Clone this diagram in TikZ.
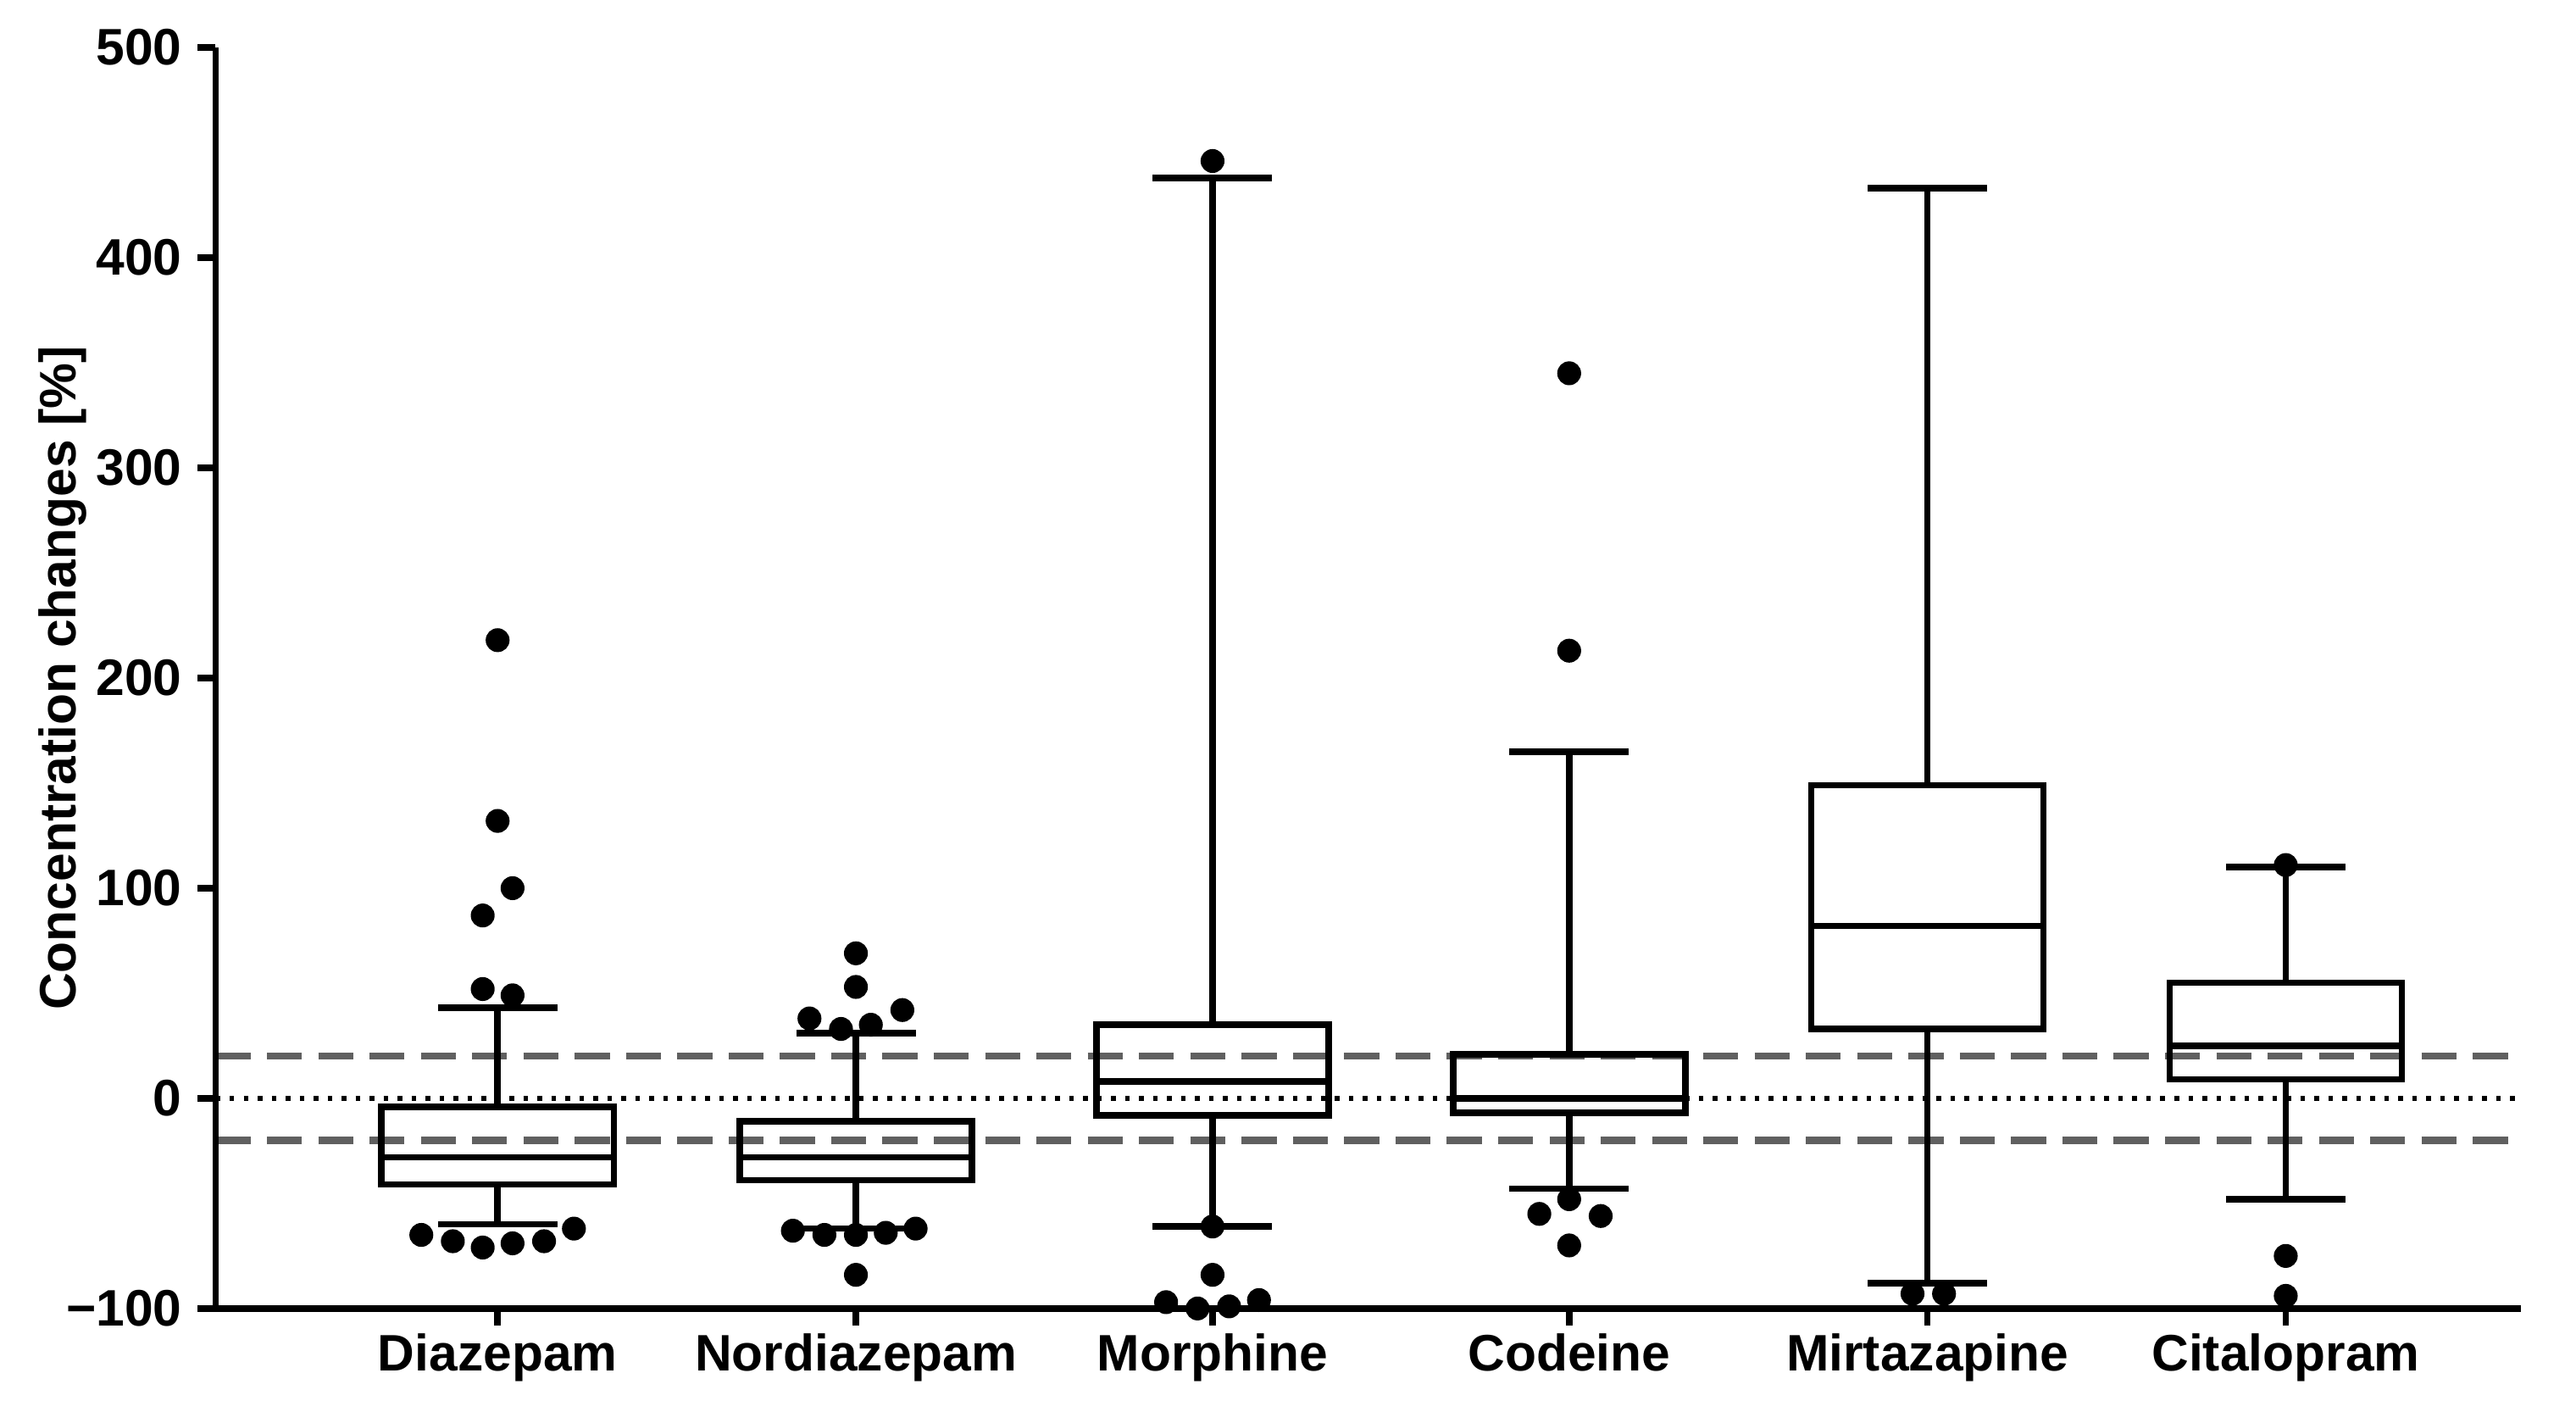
\documentclass[tikz,border=0pt]{standalone}
\usepackage{fontspec}
\setmainfont{Liberation Sans}
\begin{document}
\begin{tikzpicture}[x=0.05cm,y=0.05cm,
  ln/.style={line width=5.5pt},
  refl/.style={line width=6pt,gray!75!black,dash pattern=on 30pt off 14pt},
  dot/.style={fill=black,draw=none},
  lab/.style={font=\fontsize{44}{48}\selectfont\bfseries}]
\useasboundingbox (0,0) rectangle (1553,851);
\begin{scope}[yshift=9.45cm,y=0.063333cm]
% reference lines
\draw[refl] (130,20) coordinate (r1a) -- (1520,20) coordinate (r1b);
\draw[refl] (130,-20) coordinate (r2a) -- (1520,-20) coordinate (r2b);
\draw[line width=4pt,dash pattern=on 4pt off 8pt] (130,0) coordinate (r0a) -- (1520,0) coordinate (r0b);
% axes
\draw[ln] (130,500) coordinate (ytop) -- (130,-100) coordinate (o) -- (1520,-100) coordinate (xend);
\foreach \v/\t in {500/500,400/400,300/300,200/200,100/100,0/0,-100/−100}{
  \draw[ln] (130,\v) -- (119,\v);
  \node[lab,anchor=east] (yt\v) at (112,\v) {\t};
}
\node[lab,rotate=90] (ylab) at (38,200) {Concentration changes [\%]};
% boxes: name/x/q1/med/q3/wlo/whi
\foreach \n/\x/\qa/\m/\qb/\wl/\wh/\lbl in {
  a/300/-41/-28/-4/-60/43/Diazepam,
  b/516/-39/-28/-11/-62/31/Nordiazepam,
  c/731/-8/8/35/-61/438/Morphine,
  d/946/-7/0/21/-43/165/Codeine,
  e/1162/33/82/149/-88/433/Mirtazapine,
  f/1378/9/25/55/-48/110/Citalopram}{
  \draw[ln] (\x-70,\qa) rectangle (\x+70,\qb);
  \draw[ln] (\x-70,\m) -- (\x+70,\m);
  \draw[ln] (\x,\qb) -- (\x,\wh);
  \draw[ln] (\x,\qa) -- (\x,\wl);
  \draw[ln] (\x-36,\wh) -- (\x+36,\wh);
  \draw[ln] (\x-36,\wl) -- (\x+36,\wl);
  \draw[ln] (\x,-100) -- (\x,-108);
  \node[lab,anchor=north] (cat\n) at (\x,-110) {\lbl};
}
% outliers
\foreach \x/\v in {
  300/218,300/132,309/100,291/87,291/52,309/49,
  254/-65,273/-68,291/-71,309/-69,328/-68,346/-62,
  516/69,516/53,488/38,507/33,525/35,544/42,
  478/-63,497/-65,516/-65,534/-64,552/-62,516/-84,
  731/446,731/-61,731/-84,703/-97,722/-100,741/-99,759/-96,
  946/345,946/213,946/-48,928/-55,965/-56,946/-70,
  1153/-93,1172/-93,
  1378/111,1378/-75,1378/-94}{
  \fill[dot] (\x,\v) circle (0.36cm);
}
\end{scope}
\end{tikzpicture}
\end{document}
